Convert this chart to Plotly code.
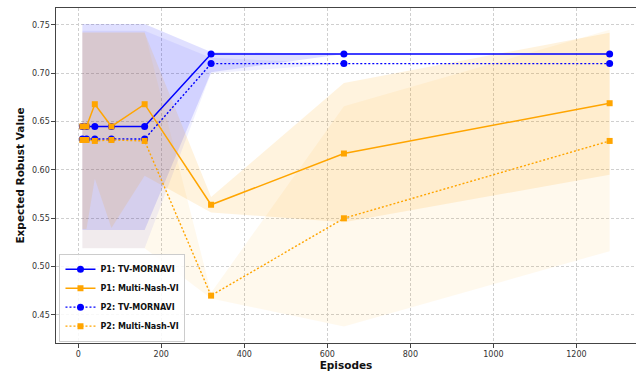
import plotly.graph_objects as go

episodes = [10, 20, 40, 80, 160, 320, 640, 1280]

p1_tv = [0.645, 0.645, 0.645, 0.645, 0.645, 0.720, 0.720, 0.720]
p1_tv_lo = [0.538, 0.538, 0.538, 0.538, 0.538, 0.701, 0.720, 0.720]
p1_tv_hi = [0.751, 0.751, 0.751, 0.751, 0.751, 0.722, 0.720, 0.720]

p2_tv = [0.632, 0.632, 0.632, 0.632, 0.632, 0.710, 0.710, 0.710]
p2_tv_lo = [0.519, 0.519, 0.519, 0.519, 0.519, 0.700, 0.710, 0.710]
p2_tv_hi = [0.744, 0.744, 0.744, 0.744, 0.744, 0.716, 0.710, 0.710]

p1_mn = [0.645, 0.645, 0.668, 0.645, 0.668, 0.564, 0.617, 0.669]
p1_mn_lo = [0.539, 0.539, 0.591, 0.540, 0.594, 0.556, 0.546, 0.595]
p1_mn_hi = [0.742, 0.742, 0.742, 0.742, 0.742, 0.572, 0.690, 0.742]

p2_mn = [0.631, 0.631, 0.630, 0.631, 0.630, 0.470, 0.550, 0.630]
p2_mn_lo = [0.519, 0.519, 0.519, 0.519, 0.519, 0.467, 0.438, 0.516]
p2_mn_hi = [0.743, 0.743, 0.743, 0.743, 0.743, 0.473, 0.666, 0.745]

names = ["P1: TV-MORNAVI", "P1: Multi-Nash-VI", "P2: TV-MORNAVI", "P2: Multi-Nash-VI"]

BLUE = "#0000ff"
ORANGE = "#ffa500"

fig = go.Figure()

def band(lo, hi, color):
    fig.add_trace(go.Scatter(
        x=episodes + episodes[::-1],
        y=hi + lo[::-1],
        fill="toself", fillcolor=color, line=dict(width=0),
        mode="lines", hoverinfo="skip", showlegend=False))

band(p1_tv_lo, p1_tv_hi, "rgba(0,0,255,0.12)")
band(p1_mn_lo, p1_mn_hi, "rgba(255,165,0,0.13)")
band(p2_tv_lo, p2_tv_hi, "rgba(0,0,255,0.06)")
band(p2_mn_lo, p2_mn_hi, "rgba(255,165,0,0.07)")

def line(y, name, color, dash, symbol, size, width):
    fig.add_trace(go.Scatter(
        x=episodes, y=y, name=name, mode="lines+markers",
        line=dict(color=color, width=width, dash=dash),
        marker=dict(color=color, symbol=symbol, size=size)))

line(p1_tv, names[0], BLUE, "solid", "circle", 7, 1.5)
line(p1_mn, names[1], ORANGE, "solid", "square", 6, 1.5)
line(p2_tv, names[2], BLUE, "2px,2px", "circle", 7, 1.4)
line(p2_mn, names[3], ORANGE, "2px,2px", "square", 6, 1.4)

font_family = "DejaVu Sans"
axis_common = dict(
    showgrid=True, gridcolor="#cfcfcf", griddash="3px,2px", gridwidth=0.8,
    showline=True, linecolor="#444", linewidth=1.2, mirror=True,
    ticks="outside", ticklen=3.5, tickcolor="#444", tickwidth=1,
    tickfont=dict(family=font_family, size=8, color="#333"),
    zeroline=False,
)

fig.update_layout(
    width=636, height=375,
    margin=dict(l=56, r=0, t=8, b=32),
    plot_bgcolor="white", paper_bgcolor="white",
    font=dict(family=font_family),
    xaxis=dict(range=[-53.5, 1343.5], tickvals=[0, 200, 400, 600, 800, 1000, 1200],
               title=dict(text="Episodes", font=dict(family=font_family, size=10.5, color="#111", weight="bold"), standoff=3),
               **axis_common),
    yaxis=dict(range=[0.421, 0.7675], tickvals=[0.45, 0.50, 0.55, 0.60, 0.65, 0.70, 0.75],
               tickformat=".2f",
               title=dict(text="Expected Robust Value", font=dict(family=font_family, size=10.5, color="#111", weight="bold"), standoff=5),
               **axis_common),
    legend=dict(x=0.006, y=0.004, xanchor="left", yanchor="bottom",
                bgcolor="rgba(255,255,255,0.85)", bordercolor="#cccccc", borderwidth=1,
                font=dict(family=font_family, size=8, color="#111", weight="bold"),
                tracegroupgap=0, itemwidth=30),
    showlegend=True,
)

fig.write_html("out.html")
